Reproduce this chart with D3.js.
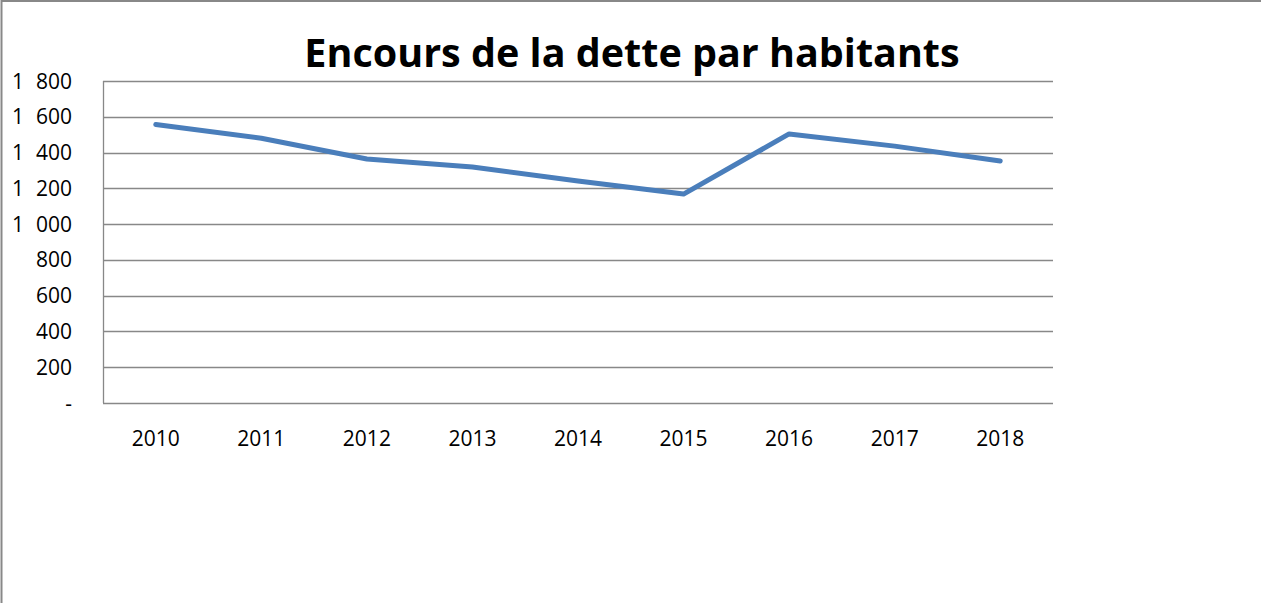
<!DOCTYPE html>
<html>
<head>
<meta charset="utf-8">
<script src="https://cdn.jsdelivr.net/npm/d3@7"></script>
<style>
  body { margin: 0; background: #fff; }
  svg text { font-family: "Open Sans", "DejaVu Sans", sans-serif; fill: #000; }
</style>
</head>
<body>
<div id="chart"></div>
<script>
// Data
let years = ["2010", "2011", "2012", "2013", "2014", "2015", "2016", "2017", "2018"];
let debtPerHab = [1557, 1480, 1364, 1319, 1241, 1168, 1504, 1436, 1353];
let yTicks = [0, 200, 400, 600, 800, 1000, 1200, 1400, 1600, 1800];
let chartTitle = "Encours de la dette par habitants";

let W = 1261, H = 603;
let margin = {top: 81, right: 208, bottom: 200, left: 103};
let width = W - margin.left - margin.right,
    height = H - margin.top - margin.bottom;

let svg = d3.select("#chart").append("svg")
    .attr("width", W)
    .attr("height", H);

// outer frame (top and left edges visible)
svg.append("path")
    .attr("d", "M 1.5 603 L 1.5 1 L 1261 1")
    .attr("fill", "none")
    .attr("stroke", "#888")
    .attr("stroke-width", 2);

let g = svg.append("g")
    .attr("transform", "translate(" + margin.left + "," + margin.top + ")");

let x = d3.scaleBand()
    .domain(years)
    .range([0, width]);

let y = d3.scaleLinear()
    .domain([0, 1800])
    .range([height, 0]);

// French style thousands, zero shown as a dash
let fmt = v => v === 0 ? "-" : d3.format(",")(v).replace(",", "\u2007");

// gridlines
g.selectAll(".grid")
    .data(yTicks)
    .enter()
    .append("line")
    .attr("x1", 0)
    .attr("x2", width)
    .attr("y1", d => Math.round(y(d)) + 0.5)
    .attr("y2", d => Math.round(y(d)) + 0.5)
    .attr("stroke", "#888")
    .attr("stroke-width", 1.3);

// left axis line
g.append("line")
    .attr("x1", 0.5).attr("x2", 0.5)
    .attr("y1", 0).attr("y2", height)
    .attr("stroke", "#888")
    .attr("stroke-width", 1.3);

// y labels
g.selectAll(".ylab")
    .data(yTicks)
    .enter()
    .append("text")
    .attr("x", -31)
    .attr("y", d => y(d))
    .attr("dy", "0.36em")
    .attr("text-anchor", "end")
    .attr("font-size", 21)
    .text(fmt);

// x labels
g.selectAll(".xlab")
    .data(years)
    .enter()
    .append("text")
    .attr("x", d => x(d) + x.bandwidth() / 2)
    .attr("y", height + 43)
    .attr("text-anchor", "middle")
    .attr("font-size", 21)
    .text(d => d);

// the line
let line = d3.line()
    .x((d, i) => x(years[i]) + x.bandwidth() / 2)
    .y(d => y(d));

g.append("path")
    .datum(debtPerHab)
    .attr("fill", "none")
    .attr("stroke", "#4a7ebb")
    .attr("stroke-width", 5)
    .attr("stroke-linecap", "round")
    .attr("stroke-linejoin", "round")
    .attr("d", line);

// title
svg.append("text")
    .attr("x", 632)
    .attr("y", 67)
    .attr("text-anchor", "middle")
    .attr("font-size", 39.5)
    .attr("font-weight", "bold")
    .text(chartTitle);
</script>
</body>
</html>
